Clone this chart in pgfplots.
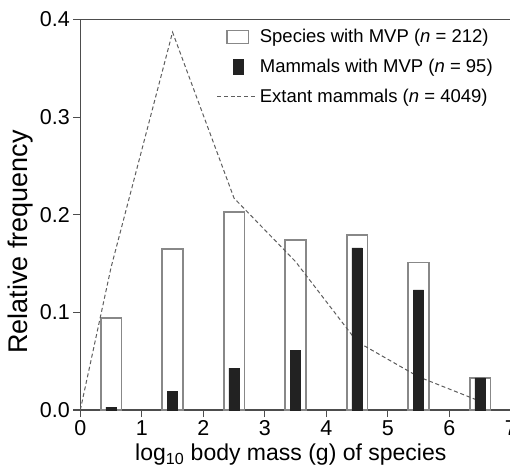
\documentclass[border=0pt]{standalone}
\usepackage{pgfplots}
\pgfplotsset{compat=1.18}
\usepackage{fontspec}
\setmainfont{Liberation Sans}
\definecolor{bargray}{HTML}{888888}
\definecolor{barblack}{HTML}{222222}
\definecolor{linegray}{HTML}{5E5E5E}
\definecolor{axisgray}{HTML}{4D4D4D}
\begin{document}
\begin{tikzpicture}
\begin{axis}[
  scale only axis, width=430.5bp, height=390.5bp,
  xmin=0, xmax=7, ymin=0, ymax=0.4,
  axis line style={axisgray, line width=1.2bp},
  xtick={0,1,2,3,4,5,6,7}, ytick={0,0.1,0.2,0.3,0.4},
  y tick label style={/pgf/number format/.cd, fixed, fixed zerofill, precision=1},
  /pgf/number format/assume math mode=true,
  tick align=outside, xtick pos=bottom, ytick pos=left, major tick length=7bp,
  tick style={axisgray, line width=1.2bp},
  ticklabel style={font=\fontsize{21.5bp}{25bp}\selectfont},
  xlabel={log\textsubscript{10} body mass (g) of species},
  ylabel={Relative frequency},
  xlabel style={font=\fontsize{23bp}{27bp}\selectfont, at={(axis description cs:0.489,-0.115)}, anchor=center},
  ylabel style={font=\fontsize{27bp}{31bp}\selectfont, at={(axis description cs:-0.138,0.43)}, anchor=center},
  legend style={draw=none, fill=none, at={(0.97,0.985)}, anchor=north east,
    font=\fontsize{18.5bp}{22bp}\selectfont, row sep=11bp, cells={anchor=west},
    /tikz/every even column/.append style={column sep=6bp}},
]
\addlegendimage{legend image code/.code={\path[draw=none,fill=none] (0bp,-8bp) rectangle (40bp,8bp); \draw[bargray, line width=1.5bp, fill=white, solid] (9.7bp,-6.5bp) rectangle (31bp,6.5bp);}}
\addlegendentry{Species with MVP (\textit{n} = 212)}
\addlegendimage{legend image code/.code={\path[draw=none,fill=none] (0bp,-8bp) rectangle (40bp,8bp); \draw[barblack, fill=barblack, solid] (16bp,-7.5bp) rectangle (26bp,7.5bp);}}
\addlegendentry{Mammals with MVP (\textit{n} = 95)}
\addlegendimage{legend image code/.code={\path[draw=none,fill=none] (0bp,-8bp) rectangle (40bp,8bp); \draw[linegray, line width=1bp, dash pattern=on 4bp off 2.7bp] (0bp,0bp) -- (40bp,0bp);}}
\addlegendentry{Extant mammals (\textit{n} = 4049)}

\addplot[ybar, bar width=0.335, bar shift=0pt, draw=bargray, line width=1.6bp, fill=white, forget plot]
  coordinates {(0.5,0.094) (1.5,0.165) (2.5,0.203) (3.5,0.174) (4.5,0.179) (5.5,0.151) (6.5,0.033)};
\addplot[linegray, line width=1bp, dash pattern=on 4bp off 2.7bp, forget plot]
  coordinates {(0,0) (0.5,0.146) (1.5,0.387) (2.5,0.217) (3.5,0.152) (4.5,0.070) (5.5,0.034) (6.5,0.009)};
\addplot[ybar, bar width=0.165, bar shift=0pt, draw=barblack, fill=barblack, forget plot]
  coordinates {(0.5,0.003) (1.5,0.019) (2.5,0.043) (3.5,0.061) (4.5,0.166) (5.5,0.123) (6.5,0.033)};
\end{axis}
\pgfresetboundingbox
\path[use as bounding box] ([xshift=-80.3bp, yshift=-59bp]current axis.south west) rectangle ([xshift=-0.8bp, yshift=19.5bp]current axis.north east);
\end{tikzpicture}
\end{document}
